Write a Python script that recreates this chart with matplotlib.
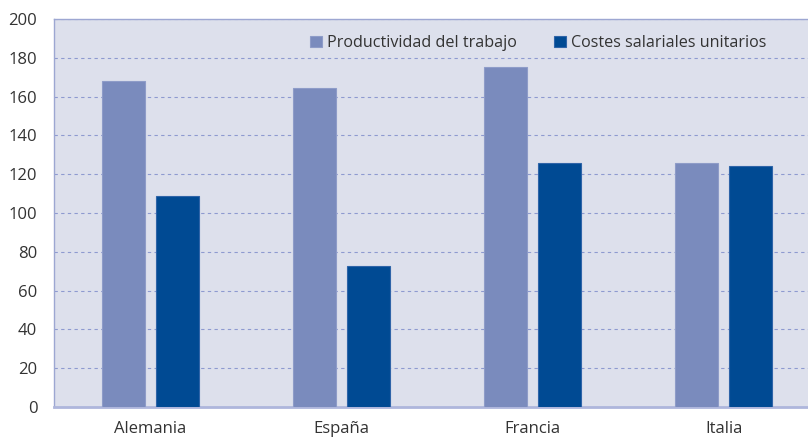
import matplotlib
matplotlib.use("Agg")
import matplotlib.pyplot as plt
import numpy as np

categories = ["Alemania", "España", "Francia", "Italia"]
productividad = [168, 164.5, 175.5, 126]
costes = [109, 72.5, 126, 124]
series_names = ["Productividad del trabajo", "Costes salariales unitarios"]
yticks = [0, 20, 40, 60, 80, 100, 120, 140, 160, 180, 200]

plt.rcParams['font.family'] = ['Open Sans', 'DejaVu Sans']

fig = plt.figure(figsize=(8.08, 4.37), dpi=100)
ax = fig.add_axes([54/808, 30/437, 1 - 54/808, 388/437])
ax.set_facecolor("#DDE0EC")

x = np.arange(len(categories))
w = 0.225
off = 0.141
c1 = "#7A8BBD"
c2 = "#004A93"
ax.bar(x - off, productividad, w, color=c1, edgecolor="#8E9CC8", linewidth=0.8,
       label=series_names[0], zorder=3)
ax.bar(x + off, costes, w, color=c2, edgecolor="#2F64A8", linewidth=0.8,
       label=series_names[1], zorder=3)

ax.set_ylim(0, 200)
ax.set_xlim(-0.505, 3.44)
ax.set_yticks(yticks)
ax.set_xticks(x)
ax.set_xticklabels(categories)
ax.tick_params(axis='both', length=0, labelsize=12, colors="#333333")
ax.tick_params(axis='x', pad=10)
ax.tick_params(axis='y', pad=12)
ax.yaxis.grid(True, linestyle=(0, (3, 3)), color="#8E9AD0", linewidth=0.8, zorder=1)
ax.set_axisbelow(True)

for s in ["left", "top"]:
    ax.spines[s].set_color("#9DA7D2")
    ax.spines[s].set_linewidth(1.0)
ax.spines["bottom"].set_color("#AEB6DC")
ax.spines["bottom"].set_linewidth(2.0)
ax.spines["right"].set_visible(False)

leg = ax.legend(loc="upper right", bbox_to_anchor=(0.953, 0.975), ncol=2, frameon=False,
                fontsize=11.6, handlelength=0.75, handleheight=0.75, handletextpad=0.3,
                columnspacing=2.3, borderaxespad=0)
for t in leg.get_texts():
    t.set_color("#333333")

fig.savefig("out.png", dpi=100)
